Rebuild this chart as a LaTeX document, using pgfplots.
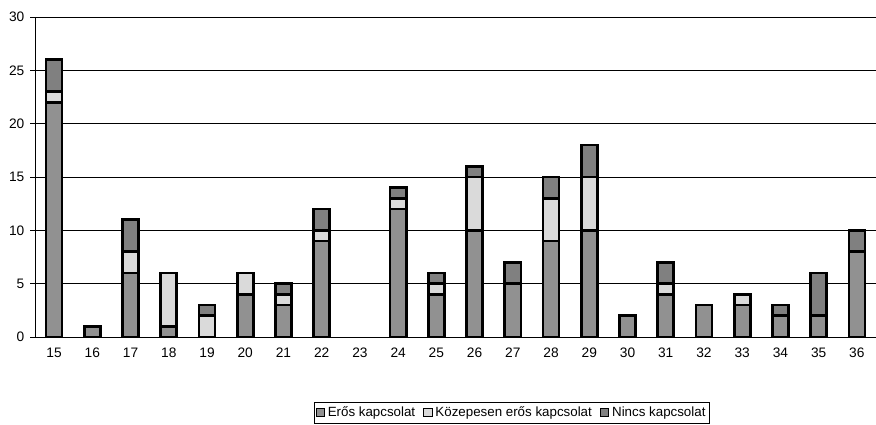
\documentclass[border=0pt]{standalone}
\usepackage{pgfplots}
\pgfplotsset{compat=1.18}
\usepackage{fontspec}
\setmainfont{Liberation Sans}
\definecolor{cE}{RGB}{145,145,145}
\definecolor{cK}{RGB}{218,218,218}
\definecolor{cN}{RGB}{128,128,128}
\begin{document}
\fontsize{10}{12}\selectfont
\begin{tikzpicture}
\path[use as bounding box] (-26.25pt,-66pt) rectangle (630.75pt,252.75pt);
\begin{axis}[
  at={(0pt,0pt)}, anchor=south west,
  width=630.75pt, height=240pt, scale only axis,
  ybar stacked, bar width=0.42,
  xmin=-0.5, xmax=21.5, ymin=0, ymax=30,
  ytick={0,5,...,30},
  xtick={0,...,21},
  xticklabels={15,16,17,18,19,20,21,22,23,24,25,26,27,28,29,30,31,32,33,34,35,36},
  major x tick style={draw=none},
  extra x ticks={-0.5,0.5,...,21.5},
  extra x tick labels={},
  extra x tick style={major tick length=3.5pt, tick style={black, line width=0.6pt}},
  axis x line=bottom, axis y line=left,
  axis line style={-, black, line width=0.7pt},
  tick align=outside,
  major tick length=3.5pt,
  tick style={black, line width=0.6pt},
  ymajorgrids, grid style={black, line width=0.6pt},
  /pgf/number format/assume math mode=true,
  ticklabel style={font=\fontsize{10.3}{12}\selectfont},
  yticklabel style={xshift=-1pt},
  xticklabel style={yshift=-1pt},
  legend style={at={(0.567,-0.236)}, anchor=center, legend columns=3, draw=black, line width=0.6pt,
    font=\fontsize{10}{12}\selectfont, inner xsep=1pt, inner ysep=1.5pt,
    /tikz/every even column/.append style={column sep=4pt}},
  legend image code/.code={\draw[#1, line width=0.8pt, draw=black] (0pt,-3.2pt) rectangle (6.4pt,3.2pt);},
]
\addplot[fill=cE, draw=black, line width=2pt] coordinates {(0,22) (1,1) (2,6) (3,1) (4,0) (5,4) (6,3) (7,9) (8,0) (9,12) (10,4) (11,10) (12,5) (13,9) (14,10) (15,2) (16,4) (17,3) (18,3) (19,2) (20,2) (21,8)};
\addplot[fill=cK, draw=black, line width=2pt] coordinates {(0,1) (1,0) (2,2) (3,5) (4,2) (5,2) (6,1) (7,1) (8,0) (9,1) (10,1) (11,5) (12,0) (13,4) (14,5) (15,0) (16,1) (17,0) (18,1) (19,0) (20,0) (21,0)};
\addplot[fill=cN, draw=black, line width=2pt] coordinates {(0,3) (1,0) (2,3) (3,0) (4,1) (5,0) (6,1) (7,2) (8,0) (9,1) (10,1) (11,1) (12,2) (13,2) (14,3) (15,0) (16,2) (17,0) (18,0) (19,1) (20,4) (21,2)};
\legend{Erős kapcsolat, Közepesen erős kapcsolat, Nincs kapcsolat}
\end{axis}
\end{tikzpicture}
\end{document}
